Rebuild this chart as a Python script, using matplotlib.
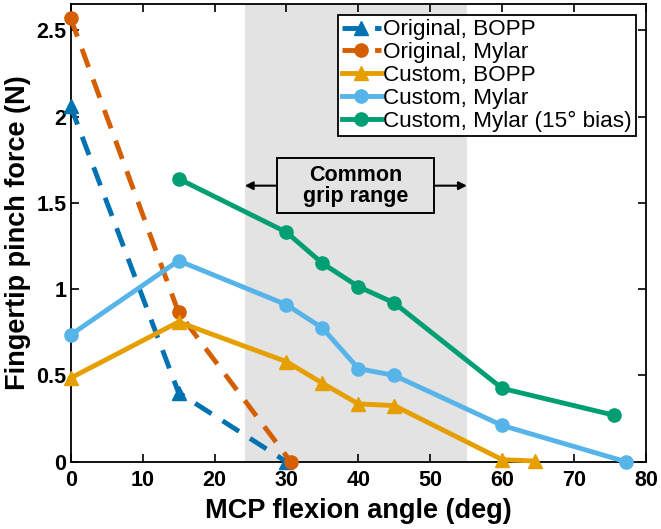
import matplotlib
matplotlib.use("Agg")
import matplotlib.pyplot as plt
from matplotlib.patches import Rectangle

plt.rcParams["font.family"] = ["Liberation Sans", "DejaVu Sans"]

# MCP flexion angle (deg) and pinch force (N) per configuration
orig_bopp_x = [0, 15, 30]
orig_bopp_y = [2.06, 0.40, 0.0]

orig_mylar_x = [0, 15, 30.6]
orig_mylar_y = [2.57, 0.865, 0.0]

cust_bopp_x = [0, 15, 30, 35, 40, 45, 60, 64.5]
cust_bopp_y = [0.485, 0.81, 0.58, 0.455, 0.335, 0.325, 0.012, 0.004]

cust_mylar_x = [0, 15, 30, 35, 40, 45, 60, 77.2]
cust_mylar_y = [0.735, 1.165, 0.91, 0.775, 0.54, 0.50, 0.21, 0.0]

bias_x = [15, 30, 35, 40, 45, 60, 75.5]
bias_y = [1.64, 1.33, 1.15, 1.015, 0.92, 0.425, 0.27]

grip_range = (24.2, 55.1)

BLUE = "#0072B2"
ORANGE = "#D55E00"
YELLOW = "#E69F00"
LIGHTBLUE = "#56B4E9"
GREEN = "#009E73"
SHADE = "#e3e3e3"

fig = plt.figure(figsize=(6.61, 5.29), dpi=100)
ax = fig.add_axes([70.7 / 661, 1 - 461.7 / 529, (646 - 70.7) / 661, (461.7 - 4) / 529])

ax.axvspan(grip_range[0], grip_range[1], color=SHADE, lw=0, zorder=0)

lw = 3.5
ms = 9.5
ax.plot(orig_bopp_x, orig_bopp_y, color=BLUE, lw=lw, ls="--", dashes=(4, 2.7),
        marker="^", ms=ms + 1, label="Original, BOPP", clip_on=False, zorder=3)
ax.plot(orig_mylar_x, orig_mylar_y, color=ORANGE, lw=lw, ls="--", dashes=(4, 2.7),
        marker="o", ms=ms, label="Original, Mylar", clip_on=False, zorder=3)
ax.plot(cust_bopp_x, cust_bopp_y, color=YELLOW, lw=lw,
        marker="^", ms=ms + 1, label="Custom, BOPP", clip_on=False, zorder=3)
ax.plot(cust_mylar_x, cust_mylar_y, color=LIGHTBLUE, lw=lw,
        marker="o", ms=ms, label="Custom, Mylar", clip_on=False, zorder=3)
ax.plot(bias_x, bias_y, color=GREEN, lw=lw,
        marker="o", ms=ms, label="Custom, Mylar (15° bias)", clip_on=False, zorder=3)

# common grip range box + arrows
box_x0, box_x1 = 28.65, 50.55
box_y0, box_y1 = 1.442, 1.761
ybox = 1.60
ax.add_patch(Rectangle((box_x0, box_y0), box_x1 - box_x0, box_y1 - box_y0,
                       fc=SHADE, ec="black", lw=1.4, zorder=4))
ax.annotate("", xy=(grip_range[0], ybox), xytext=(box_x0, ybox),
            arrowprops=dict(arrowstyle="-|>", color="black", lw=1.5,
                            mutation_scale=12, shrinkA=0, shrinkB=0), zorder=4)
ax.annotate("", xy=(grip_range[1], ybox), xytext=(box_x1, ybox),
            arrowprops=dict(arrowstyle="-|>", color="black", lw=1.5,
                            mutation_scale=12, shrinkA=0, shrinkB=0), zorder=4)
ax.text((box_x0 + box_x1) / 2, ybox, "Common\ngrip range", ha="center", va="center",
        fontsize=15.5, fontweight="bold", linespacing=1.0, zorder=5)

ax.set_xlim(0, 80)
ax.set_ylim(0, 2.653)
ax.set_xticks(range(0, 81, 10))
ax.set_yticks([0, 0.5, 1, 1.5, 2, 2.5])
ax.set_yticklabels(["0", "0.5", "1", "1.5", "2", "2.5"])
ax.tick_params(direction="in", top=True, right=True, length=6, width=1.2,
               labelsize=15.5)
ax.tick_params(axis="x", pad=6)
ax.tick_params(axis="y", pad=3)
for lab in ax.get_xticklabels() + ax.get_yticklabels():
    lab.set_fontweight("bold")
for s in ax.spines.values():
    s.set_linewidth(1.3)

ax.set_xlabel("MCP flexion angle (deg)", fontsize=19.5, fontweight="bold", labelpad=5)
ax.set_ylabel("Fingertip pinch force (N)", fontsize=19.5, fontweight="bold", labelpad=4)

leg = ax.legend(loc="upper right", bbox_to_anchor=(0.9826, 0.976), fontsize=16.2,
                frameon=True, fancybox=False, edgecolor="black", framealpha=1,
                handlelength=1.7, handletextpad=0.1, borderpad=0.2,
                labelspacing=0.08, borderaxespad=0)
leg.get_frame().set_linewidth(1.3)

fig.savefig("out.png", dpi=100)
